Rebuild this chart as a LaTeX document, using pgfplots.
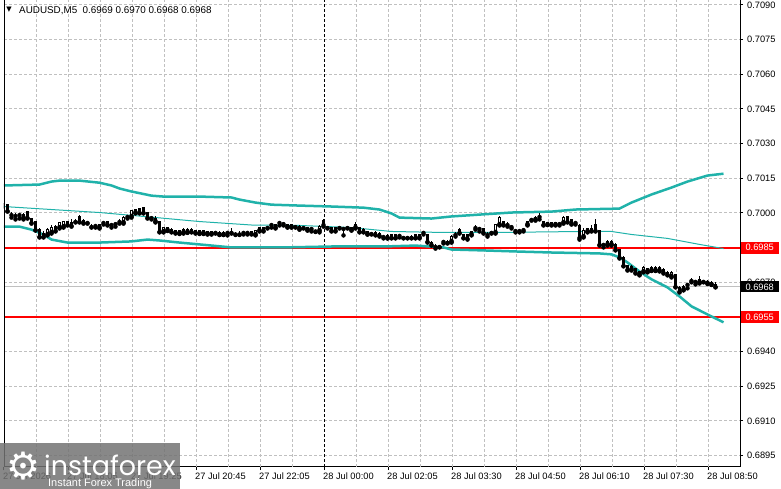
\documentclass[border=0pt]{standalone}
\usepackage{pgfplots}
\pgfplotsset{compat=1.18}
\usepackage{pgfplotstable}
\usepackage{fontspec}
\setmainfont{Liberation Sans}
\newfontfamily\dejavu{DejaVu Sans}
\newfontfamily\pop{Poppins}
\definecolor{bb}{HTML}{20B2AA}
\definecolor{gridc}{HTML}{C0C0C0}

\pgfplotstableread{
i o h l c
0 0.70023 0.70045 0.70019 0.70041
1 0.70036 0.70041 0.70006 0.70010
2 0.69993 0.70006 0.69980 0.69993
3 0.69989 0.70002 0.69972 0.69989
4 0.69993 0.69998 0.69976 0.69993
5 0.69980 0.69998 0.69972 0.69993
6 0.70006 0.70010 0.69976 0.69980
7 0.69976 0.69980 0.69954 0.69959
8 0.69963 0.69967 0.69924 0.69928
9 0.69928 0.69933 0.69894 0.69898
10 0.69911 0.69920 0.69894 0.69898
11 0.69907 0.69937 0.69903 0.69928
12 0.69916 0.69946 0.69911 0.69937
13 0.69941 0.69950 0.69920 0.69924
14 0.69937 0.69963 0.69933 0.69959
15 0.69941 0.69967 0.69937 0.69963
16 0.69963 0.69967 0.69946 0.69950
17 0.69959 0.69972 0.69941 0.69946
18 0.69963 0.69976 0.69959 0.69963
19 0.69985 0.69993 0.69959 0.69963
20 0.69967 0.69972 0.69954 0.69959
21 0.69959 0.69963 0.69954 0.69959
22 0.69941 0.69954 0.69937 0.69941
23 0.69946 0.69950 0.69937 0.69946
24 0.69937 0.69954 0.69933 0.69950
25 0.69959 0.69967 0.69950 0.69959
26 0.69963 0.69967 0.69946 0.69950
27 0.69950 0.69954 0.69937 0.69950
28 0.69954 0.69959 0.69941 0.69954
29 0.69963 0.69972 0.69954 0.69963
30 0.69959 0.69985 0.69954 0.69980
31 0.69985 0.69989 0.69976 0.69985
32 0.69985 0.70015 0.69980 0.70010
33 0.70002 0.70019 0.69998 0.70015
34 0.70019 0.70023 0.69998 0.70002
35 0.70023 0.70028 0.69998 0.70002
36 0.70002 0.70006 0.69976 0.69980
37 0.69980 0.69989 0.69972 0.69980
38 0.69963 0.69985 0.69959 0.69976
39 0.69963 0.69967 0.69916 0.69920
40 0.69920 0.69941 0.69916 0.69937
41 0.69926 0.69941 0.69922 0.69937
42 0.69928 0.69933 0.69916 0.69920
43 0.69924 0.69928 0.69911 0.69916
44 0.69913 0.69928 0.69909 0.69924
45 0.69916 0.69933 0.69911 0.69928
46 0.69918 0.69933 0.69914 0.69928
47 0.69928 0.69933 0.69916 0.69920
48 0.69924 0.69928 0.69911 0.69916
49 0.69913 0.69928 0.69909 0.69924
50 0.69913 0.69928 0.69909 0.69924
51 0.69910 0.69924 0.69907 0.69920
52 0.69910 0.69924 0.69907 0.69920
53 0.69916 0.69920 0.69911 0.69916
54 0.69907 0.69920 0.69905 0.69916
55 0.69907 0.69920 0.69905 0.69916
56 0.69916 0.69920 0.69903 0.69916
57 0.69916 0.69933 0.69911 0.69916
58 0.69907 0.69916 0.69907 0.69907
59 0.69907 0.69924 0.69907 0.69907
60 0.69916 0.69920 0.69907 0.69916
61 0.69916 0.69920 0.69907 0.69916
62 0.69920 0.69924 0.69907 0.69911
63 0.69907 0.69928 0.69903 0.69924
64 0.69924 0.69941 0.69920 0.69937
65 0.69937 0.69941 0.69920 0.69924
66 0.69937 0.69941 0.69933 0.69937
67 0.69950 0.69954 0.69937 0.69950
68 0.69937 0.69954 0.69933 0.69950
69 0.69959 0.69963 0.69946 0.69959
70 0.69954 0.69959 0.69946 0.69954
71 0.69940 0.69954 0.69937 0.69950
72 0.69940 0.69954 0.69937 0.69950
73 0.69941 0.69946 0.69937 0.69941
74 0.69931 0.69946 0.69928 0.69941
75 0.69937 0.69941 0.69933 0.69937
76 0.69927 0.69941 0.69924 0.69937
77 0.69933 0.69937 0.69920 0.69933
78 0.69920 0.69924 0.69920 0.69920
79 0.69924 0.69946 0.69916 0.69941
80 0.69967 0.69972 0.69941 0.69950
81 0.69937 0.69941 0.69933 0.69937
82 0.69937 0.69941 0.69920 0.69924
83 0.69937 0.69941 0.69920 0.69924
84 0.69937 0.69941 0.69933 0.69937
85 0.69933 0.69937 0.69903 0.69933
86 0.69937 0.69941 0.69933 0.69937
87 0.69927 0.69941 0.69924 0.69937
88 0.69937 0.69959 0.69933 0.69950
89 0.69937 0.69941 0.69916 0.69920
90 0.69928 0.69933 0.69916 0.69920
91 0.69909 0.69924 0.69907 0.69920
92 0.69911 0.69916 0.69907 0.69911
93 0.69916 0.69920 0.69903 0.69907
94 0.69911 0.69916 0.69898 0.69903
95 0.69898 0.69903 0.69890 0.69898
96 0.69892 0.69907 0.69890 0.69903
97 0.69907 0.69911 0.69890 0.69894
98 0.69907 0.69911 0.69890 0.69894
99 0.69903 0.69907 0.69894 0.69903
100 0.69894 0.69898 0.69890 0.69894
101 0.69894 0.69894 0.69890 0.69894
102 0.69898 0.69903 0.69890 0.69894
103 0.69907 0.69911 0.69890 0.69894
104 0.69894 0.69911 0.69890 0.69907
105 0.69916 0.69920 0.69907 0.69916
106 0.69907 0.69911 0.69872 0.69877
107 0.69872 0.69877 0.69859 0.69864
108 0.69855 0.69864 0.69846 0.69855
109 0.69855 0.69859 0.69851 0.69855
110 0.69877 0.69881 0.69868 0.69877
111 0.69877 0.69881 0.69868 0.69872
112 0.69877 0.69903 0.69872 0.69898
113 0.69907 0.69916 0.69898 0.69907
114 0.69928 0.69933 0.69911 0.69916
115 0.69907 0.69911 0.69890 0.69894
116 0.69907 0.69911 0.69885 0.69890
117 0.69907 0.69924 0.69903 0.69920
118 0.69937 0.69946 0.69928 0.69937
119 0.69933 0.69941 0.69920 0.69933
120 0.69933 0.69937 0.69911 0.69916
121 0.69907 0.69916 0.69898 0.69907
122 0.69916 0.69920 0.69911 0.69916
123 0.69916 0.69954 0.69911 0.69950
124 0.69950 0.69985 0.69946 0.69980
125 0.69963 0.69967 0.69946 0.69950
126 0.69950 0.69959 0.69941 0.69950
127 0.69941 0.69950 0.69933 0.69941
128 0.69924 0.69928 0.69916 0.69924
129 0.69924 0.69928 0.69916 0.69924
130 0.69928 0.69933 0.69920 0.69928
131 0.69950 0.69967 0.69946 0.69963
132 0.69972 0.69976 0.69967 0.69972
133 0.69972 0.69985 0.69967 0.69980
134 0.69985 0.69998 0.69972 0.69985
135 0.69963 0.69967 0.69946 0.69950
136 0.69950 0.69963 0.69948 0.69959
137 0.69959 0.69963 0.69946 0.69950
138 0.69950 0.69963 0.69946 0.69959
139 0.69954 0.69959 0.69946 0.69954
140 0.69959 0.69985 0.69954 0.69980
141 0.69985 0.69989 0.69959 0.69963
142 0.69972 0.69976 0.69950 0.69954
143 0.69959 0.69967 0.69950 0.69959
144 0.69946 0.69954 0.69885 0.69894
145 0.69898 0.69933 0.69894 0.69924
146 0.69920 0.69937 0.69916 0.69933
147 0.69933 0.69946 0.69920 0.69924
148 0.69950 0.69972 0.69920 0.69924
149 0.69924 0.69928 0.69859 0.69864
150 0.69864 0.69872 0.69851 0.69864
151 0.69864 0.69881 0.69859 0.69877
152 0.69864 0.69881 0.69859 0.69877
153 0.69864 0.69868 0.69838 0.69842
154 0.69842 0.69846 0.69803 0.69808
155 0.69808 0.69812 0.69769 0.69773
156 0.69773 0.69777 0.69751 0.69756
157 0.69756 0.69773 0.69751 0.69769
158 0.69760 0.69764 0.69738 0.69743
159 0.69734 0.69751 0.69730 0.69747
160 0.69747 0.69769 0.69743 0.69764
161 0.69747 0.69764 0.69743 0.69760
162 0.69752 0.69769 0.69749 0.69764
163 0.69752 0.69769 0.69749 0.69764
164 0.69751 0.69769 0.69747 0.69764
165 0.69756 0.69760 0.69738 0.69743
166 0.69743 0.69747 0.69730 0.69734
167 0.69726 0.69747 0.69721 0.69743
168 0.69734 0.69738 0.69678 0.69682
169 0.69678 0.69682 0.69656 0.69661
170 0.69669 0.69687 0.69665 0.69682
171 0.69691 0.69695 0.69674 0.69691
172 0.69708 0.69717 0.69700 0.69708
173 0.69704 0.69708 0.69691 0.69704
174 0.69700 0.69726 0.69695 0.69713
175 0.69704 0.69708 0.69700 0.69704
176 0.69696 0.69708 0.69693 0.69704
177 0.69691 0.69704 0.69689 0.69700
178 0.69690 0.69700 0.69680 0.69680
}\candles

\pgfplotstableread{
i v
0 0.70119
9 0.70123
12 0.70136
14 0.70140
19 0.70140
24 0.70131
27 0.70119
29 0.70106
32 0.70093
37 0.70075
40 0.70071
49 0.70071
57 0.70067
59 0.70058
63 0.70045
67 0.70036
74 0.70032
82 0.70028
90 0.70023
94 0.70015
97 0.69998
99 0.69980
107 0.69976
112 0.69985
119 0.69993
127 0.70002
137 0.70006
143 0.70015
154 0.70019
157 0.70045
162 0.70080
167 0.70110
171 0.70136
176 0.70162
180 0.70170
}\bbup

\pgfplotstableread{
i v
0 0.70028
12 0.70015
24 0.70002
37 0.69982
49 0.69963
62 0.69948
74 0.69946
87 0.69937
97 0.69920
109 0.69916
124 0.69916
145 0.69920
152 0.69920
157 0.69907
166 0.69890
174 0.69864
180 0.69846
}\bbmid

\pgfplotstableread{
i v
0 0.69941
4 0.69941
7 0.69928
10 0.69907
12 0.69885
16 0.69872
24 0.69872
32 0.69877
36 0.69885
39 0.69881
44 0.69872
49 0.69864
57 0.69851
70 0.69851
82 0.69855
95 0.69855
103 0.69859
110 0.69851
112 0.69842
120 0.69838
129 0.69833
137 0.69829
149 0.69825
152 0.69821
154 0.69808
156 0.69786
159 0.69747
162 0.69713
166 0.69678
169 0.69639
172 0.69596
176 0.69561
180 0.69527
}\bblow

\begin{document}
\begin{tikzpicture}
\useasboundingbox (0,0) rectangle (781bp,489bp);
\begin{axis}[
  at={(4bp,22bp)}, anchor=south west,
  width=736bp, height=467bp, scale only axis,
  xmin=0.125, xmax=184.125, ymin=0.689009, ymax=0.709216,
  axis x line*=bottom, axis y line*=right,
  axis line style={black, line width=1bp},
  xtick={0.125,16.125,32.125,48.125,64.125,80.125,96.125,112.125,128.125,144.125,160.125,176.125},
  xticklabels={27 Jul 2026,27 Jul 18:05,27 Jul 19:25,27 Jul 20:45,27 Jul 22:05,28 Jul 00:00,28 Jul 02:05,28 Jul 03:30,28 Jul 04:50,28 Jul 06:10,28 Jul 07:30,28 Jul 08:50},
  ytick={0.6895,0.6910,0.6925,0.6940,0.6955,0.6970,0.6985,0.7000,0.7015,0.7030,0.7045,0.7060,0.7075,0.7090},
  yticklabels={0.6895,0.6910,0.6925,0.6940,0.6955,0.6970,0.6985,0.7000,0.7015,0.7030,0.7045,0.7060,0.7075,0.7090},
  tick align=outside, major tick length=3bp,
  tick style={black, line width=1bp},
  tick label style={font=\fontsize{9.3}{10}\selectfont, text=black},
  xticklabel style={anchor=north west, inner sep=0pt, xshift=-1bp, yshift=-3bp},
  yticklabel style={anchor=west, inner sep=0pt, xshift=4bp},
  clip mode=individual,
]
% grid
\pgfplotsinvokeforeach{8.125,16.125,...,176.125}{
  \draw[gridc, line width=1bp, dash pattern=on 3bp off 2bp] (axis cs:#1,0.689009) -- (axis cs:#1,0.709216);
}
\pgfplotsinvokeforeach{0.6895,0.6910,0.6925,0.6940,0.6955,0.6970,0.6985,0.7000,0.7015,0.7030,0.7045,0.7060,0.7075,0.7090}{
  \draw[gridc, line width=1bp, dash pattern=on 3bp off 2bp] (axis cs:0.125,#1) -- (axis cs:184.125,#1);
}
\addplot[red, line width=2bp] coordinates {(0.125,0.6985) (184.125,0.6985)};
\addplot[red, line width=2bp] coordinates {(0.125,0.6955) (184.125,0.6955)};
\addplot[gridc, line width=1bp] coordinates {(0.125,0.6968) (184.125,0.6968)};
\addplot[black, line width=1bp, dash pattern=on 3bp off 2bp] coordinates {(80.125,0.689009) (80.125,0.709216)};
\addplot[bb, line width=2.5bp] table[x=i, y=v] {\bbup};
\addplot[bb, line width=1bp] table[x=i, y=v] {\bbmid};
\addplot[bb, line width=2.5bp] table[x=i, y=v] {\bblow};
% wicks
\addplot[only marks, mark=none,
  error bars/.cd, y dir=plus, y explicit, error mark=none,
  error bar style={black, solid, line width=1bp}]
  table[x=i, y=l, y error plus expr={\thisrow{h}-\thisrow{l}}] {\candles};
% bodies (outline / black)
\addplot[only marks, mark=none,
  error bars/.cd, y dir=plus, y explicit, error mark=none,
  error bar style={black, solid, line width=3bp}]
  table[x=i, y expr={min(\thisrow{o},\thisrow{c})-0.0000216},
        y error plus expr={abs(\thisrow{o}-\thisrow{c})+0.0000433}] {\candles};
% bullish interiors (white)
\addplot[only marks, mark=none,
  error bars/.cd, y dir=plus, y explicit, error mark=none,
  error bar style={white, solid, line width=1bp}]
  table[x=i, y expr={(\thisrow{c}-\thisrow{o}>0.00006) ? \thisrow{o}+0.0000216 : nan},
        y error plus expr={\thisrow{c}-\thisrow{o}-0.0000433}] {\candles};
\coordinate (r1) at (axis cs:184.125,0.6985);
\coordinate (r2) at (axis cs:184.125,0.6955);
\coordinate (r3) at (axis cs:184.125,0.6968);
\end{axis}
\draw[black, line width=1bp] (4bp,22bp) -- (4bp,489bp);
\node[fill=red, text=white, anchor=west, minimum width=38bp, minimum height=12bp, inner sep=0pt, font=\fontsize{9.3}{10}\selectfont] at ([xshift=0.5bp]r1) {0.6985};
\node[fill=red, text=white, anchor=west, minimum width=38bp, minimum height=12bp, inner sep=0pt, font=\fontsize{9.3}{10}\selectfont] at ([xshift=0.5bp]r2) {0.6955};
\node[fill=black, text=white, anchor=west, minimum width=38bp, minimum height=11bp, inner sep=0pt, font=\fontsize{9.3}{10}\selectfont] at ([xshift=0.5bp]r3) {0.6968};
% title
\node[inner sep=0pt, font=\dejavu\fontsize{7}{7}\selectfont] at (9bp,479bp) {▼};
\node[anchor=base west, inner sep=0pt, font=\fontsize{9.9}{10}\selectfont] at (19bp,475bp) {AUDUSD,M5\hspace{0.55em}0.6969 0.6970 0.6968 0.6968};
% watermark
\fill[black!55, opacity=0.85] (0,0) rectangle (180bp,46bp);
\node[text=white, inner sep=0pt, font=\dejavu\fontsize{38}{38}\selectfont] at (23bp,23bp) {⚙};
\node[anchor=base west, text=white, inner sep=0pt, font=\pop\fontsize{27}{27}\selectfont] at (44bp,14bp) {instaforex};
\node[anchor=base west, text=white, inner sep=0pt, font=\fontsize{11}{11}\selectfont] at (48bp,3bp) {Instant Forex Trading};
\end{tikzpicture}
\end{document}
